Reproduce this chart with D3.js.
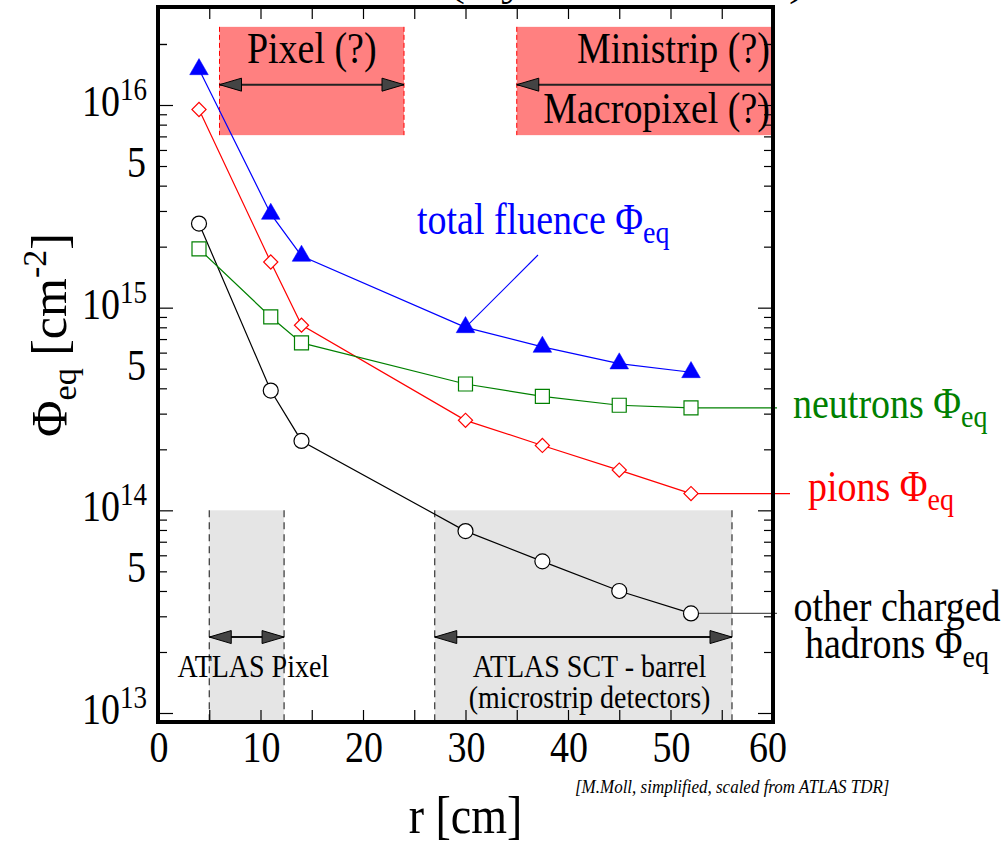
<!DOCTYPE html>
<html>
<head>
<meta charset="utf-8">
<script src="https://cdn.jsdelivr.net/npm/d3@7"></script>
<style>
  body { margin: 0; background: #fff; }
  svg { display: block; font-family: "Liberation Serif", "Times New Roman", serif; }
</style>
</head>
<body>
<div id="chart"></div>
<script>
'use strict';

// ------------------------------------
// DATA
// ------------------------------------
const radius = [4, 11, 14, 30, 37.5, 45, 52];               // r [cm]
const totalFluence = [1.5e16, 2.9e15, 1.8e15, 8.0e14, 6.4e14, 5.3e14, 4.8e14];
const neutrons     = [1.95e15, 9.0e14, 6.7e14, 4.2e14, 3.65e14, 3.3e14, 3.2e14];
const pions        = [9.5e15, 1.68e15, 8.2e14, 2.78e14, 2.09e14, 1.58e14, 1.21e14];
const otherHadrons = [2.6e15, 3.9e14, 2.2e14, 7.9e13, 5.6e13, 4.0e13, 3.1e13];

const xLabels = [0, 10, 20, 30, 40, 50, 60];
const xTickVals = [0, 5, 10, 15, 20, 25, 30, 35, 40, 45, 50, 55, 60];
const yDecades = [1e13, 1e14, 1e15, 1e16];
const yDecadeExp = ["13", "14", "15", "16"];
const yFives = [5e13, 5e14, 5e15];
const yMinorMult = [2, 3, 4, 5, 6, 7, 8, 9];

// detector regions
const upgradeBoxes = [
  { lines: ["Pixel (?)"], r0: 6, r1: 24, heads: ["left", "right"] },
  { lines: ["Ministrip (?)", "Macropixel (?)"], r0: 35, r1: 60, heads: ["left"] }
];
const upgradeTop = 2.43e16, upgradeBottom = 7.1e15, upgradeArrow = 1.26e16;

const atlasBoxes = [
  { lines: ["ATLAS Pixel"], r0: 5, r1: 12.3, labelR: 9.3 },
  { lines: ["ATLAS SCT - barrel", "(microstrip detectors)"], r0: 27, r1: 56, labelR: 42.1 }
];
const atlasTop = 1e14, atlasArrow = 2.37e13;

// ------------------------------------
// SETUP
// ------------------------------------
const width = 1007;
const height = 844;
const frame = { left: 158, right: 773, top: 7, bottom: 722 };
const stretch = 1.15; // the original's lettering is a bit taller than wide

const x = d3.scaleLinear().domain([0, 60]).range([frame.left, frame.right]);
const y = d3.scaleLog().domain([1e13, 1e16]).range([713, 105]);

const svg = d3.select("#chart")
  .append("svg")
  .attr("width", width)
  .attr("height", height);

svg.append("rect").attr("width", width).attr("height", height).attr("fill", "#fff");

// text helper: baseline at (px, py), glyphs stretched vertically
function label(g, px, py, size, anchor) {
  return g.append("text")
    .attr("transform", `translate(${px},${py}) scale(1,${stretch})`)
    .attr("font-size", size)
    .attr("text-anchor", anchor || "start");
}

// cut-off title at the very top
svg.append("text")
  .attr("x", 449)
  .attr("y", -4)
  .attr("font-size", 38)
  .attr("textLength", 356)
  .attr("lengthAdjust", "spacingAndGlyphs")
  .text("(5 years of SLHC)");

// ------------------------------------
// REGIONS
// ------------------------------------
function arrowHead(tipX, yy, dir) {
  const len = 22, half = 6.5;
  return `M${tipX},${yy}L${tipX - dir * len},${yy - half}L${tipX - dir * len},${yy + half}Z`;
}

const gRegions = svg.append("g");

// pink upgrade boxes
upgradeBoxes.forEach(b => {
  const x0 = x(b.r0), x1 = x(b.r1);
  const y0 = y(upgradeTop), y1 = y(upgradeBottom);
  gRegions.append("rect")
    .attr("x", x0).attr("y", y0)
    .attr("width", x1 - x0).attr("height", y1 - y0)
    .attr("fill", "#ff8080");
  [x0, x1].filter(v => v < frame.right - 2).forEach(xx => {
    gRegions.append("line")
      .attr("x1", xx).attr("x2", xx).attr("y1", y0).attr("y2", y1)
      .attr("stroke", "#ff0000").attr("stroke-width", 1)
      .attr("stroke-dasharray", "5,3");
  });
  const ay = y(upgradeArrow);
  gRegions.append("line")
    .attr("x1", x0).attr("x2", x1).attr("y1", ay).attr("y2", ay)
    .attr("stroke", "#222").attr("stroke-width", 2);
  b.heads.forEach(h => {
    gRegions.append("path")
      .attr("d", h === "left" ? arrowHead(x0, ay, -1) : arrowHead(x1, ay, 1))
      .attr("fill", "#444").attr("stroke", "#000").attr("stroke-width", 1);
  });
  b.lines.forEach((t, i) => {
    const single = b.lines.length === 1;
    label(gRegions, single ? (x0 + x1) / 2 : x1 - 3, i === 0 ? y0 + 36 : y0 + 96, 38,
      single ? "middle" : "end")
      .text(t);
  });
});

// grey ATLAS boxes
atlasBoxes.forEach(b => {
  const x0 = x(b.r0), x1 = x(b.r1);
  const y0 = y(atlasTop), y1 = frame.bottom;
  gRegions.append("rect")
    .attr("x", x0).attr("y", y0)
    .attr("width", x1 - x0).attr("height", y1 - y0)
    .attr("fill", "#e5e5e5");
  [x0, x1].forEach(xx => {
    gRegions.append("line")
      .attr("x1", xx).attr("x2", xx).attr("y1", y0).attr("y2", y1)
      .attr("stroke", "#222").attr("stroke-width", 1.1)
      .attr("stroke-dasharray", "7,5");
  });
  const ay = y(atlasArrow);
  gRegions.append("line")
    .attr("x1", x0).attr("x2", x1).attr("y1", ay).attr("y2", ay)
    .attr("stroke", "#111").attr("stroke-width", 2);
  gRegions.append("path").attr("d", arrowHead(x0, ay, -1))
    .attr("fill", "#444").attr("stroke", "#000").attr("stroke-width", 1);
  gRegions.append("path").attr("d", arrowHead(x1, ay, 1))
    .attr("fill", "#444").attr("stroke", "#000").attr("stroke-width", 1);
  b.lines.forEach((t, i) => {
    label(gRegions, x(b.labelR), 677 + i * 31, 28, "middle").text(t);
  });
});

// ------------------------------------
// TICKS (inward, all four sides)
// ------------------------------------
const yMinor = yDecades.flatMap(d => yMinorMult.map(m => d * m))
  .concat(yMinorMult.map(m => 1e16 * m))
  .filter(v => y(v) > frame.top + 3 && y(v) < frame.bottom - 3);
const yMajor = yDecades.filter(v => y(v) > frame.top && y(v) < frame.bottom);

function tidy(g) {
  g.select(".domain").remove();
  g.selectAll("line").attr("stroke", "#000").attr("stroke-width", 1.2);
}

svg.append("g").attr("transform", `translate(0,${frame.bottom})`)
  .call(d3.axisTop(x).tickValues(xTickVals).tickSize(12).tickFormat(""))
  .call(tidy);
svg.append("g").attr("transform", `translate(0,${frame.top})`)
  .call(d3.axisBottom(x).tickValues(xTickVals).tickSize(12).tickFormat(""))
  .call(tidy);
[[d3.axisRight, frame.left], [d3.axisLeft, frame.right]].forEach(([ax, pos]) => {
  svg.append("g").attr("transform", `translate(${pos},0)`)
    .call(ax(y).tickValues(yMinor).tickSize(9).tickFormat(""))
    .call(tidy);
  svg.append("g").attr("transform", `translate(${pos},0)`)
    .call(ax(y).tickValues(yMajor).tickSize(15).tickFormat(""))
    .call(tidy);
});

// tick labels
const gTickLabels = svg.append("g");
xLabels.forEach(v => {
  label(gTickLabels, v === 60 ? x(v) - 5 : x(v) + 1, 762, 38, "middle").text(v);
});
yDecades.forEach((v, i) => {
  const t = label(gTickLabels, 147, y(v) + 11, 38, "end");
  t.append("tspan").text("10");
  t.append("tspan").attr("dy", -14).attr("font-size", 27).text(yDecadeExp[i]);
});
yFives.forEach(v => {
  label(gTickLabels, 146, y(v) + 11, 38, "end").text("5");
});

// axis titles
const yTitle = svg.append("text")
  .attr("transform", "translate(66,335) rotate(-90)")
  .attr("text-anchor", "middle")
  .attr("font-size", 50);
yTitle.append("tspan").text("\u03A6");
yTitle.append("tspan").attr("dy", 10).attr("font-size", 34).text("eq");
yTitle.append("tspan").attr("dy", -10).text(" [cm");
yTitle.append("tspan").attr("dy", -20).attr("font-size", 34).text("-2");
yTitle.append("tspan").attr("dy", 20).text("]");

label(svg, x(30), 833, 46, "middle").text("r [cm]");

label(svg, 575, 793, 17)
  .attr("font-style", "italic")
  .text("[M.Moll, simplified, scaled from ATLAS TDR]");

// ------------------------------------
// SERIES
// ------------------------------------
const series = [
  { values: otherHadrons, color: "#000", leader: "#555", leaderEnd: frame.right + 4, marker: "circle" },
  { values: pions, color: "#ff0000", leader: "#ff0000", leaderEnd: frame.right + 17, marker: "diamond" },
  { values: neutrons, color: "#008000", leader: "#008000", leaderEnd: frame.right + 4, marker: "square" },
  { values: totalFluence, color: "#0000ff", marker: "triangle" }
];

const line = d3.line()
  .x((d, i) => x(radius[i]))
  .y(d => y(d));

const gLines = svg.append("g");
series.forEach(s => {
  gLines.append("path")
    .attr("d", line(s.values))
    .attr("fill", "none")
    .attr("stroke", s.color)
    .attr("stroke-width", 1.2);
  if (s.leader) {
    const last = s.values[s.values.length - 1];
    gLines.append("line")
      .attr("x1", x(radius[radius.length - 1])).attr("x2", s.leaderEnd)
      .attr("y1", y(last)).attr("y2", y(last))
      .attr("stroke", s.leader).attr("stroke-width", 1.2);
  }
});

const symbols = {
  circle: d3.symbol(d3.symbolCircle, 177)(),
  square: d3.symbol(d3.symbolSquare, 196)(),
  diamond: d3.symbol(d3.symbolSquare, 100)(),
  triangle: d3.symbol(d3.symbolTriangle, 150)()
};

// frame
svg.append("rect")
  .attr("x", frame.left).attr("y", frame.top)
  .attr("width", frame.right - frame.left)
  .attr("height", frame.bottom - frame.top)
  .attr("fill", "none")
  .attr("stroke", "#000")
  .attr("stroke-width", 4);

const gPoints = svg.append("g");
series.forEach(s => {
  gPoints.selectAll(null)
    .data(s.values)
    .join("path")
    .attr("d", symbols[s.marker])
    .attr("transform", (d, i) =>
      `translate(${x(radius[i])},${y(d)})` + (s.marker === "diamond" ? " rotate(45)" : ""))
    .attr("fill", s.marker === "triangle" ? s.color : "#fff")
    .attr("stroke", s.color)
    .attr("stroke-width", s.marker === "triangle" ? 0.5 : 1.2);
});

// ------------------------------------
// SERIES LABELS
// ------------------------------------
function phiLabel(g, px, py, text, color, anchor) {
  const t = label(g, px, py, 38, anchor).attr("fill", color);
  t.append("tspan").text(text + "\u03A6");
  t.append("tspan").attr("dy", 8).attr("font-size", 28).text("eq");
  return t;
}

const gLabels = svg.append("g");

// total fluence with leader line to the r = 30 cm point
gLabels.append("line")
  .attr("x1", 538).attr("y1", 255)
  .attr("x2", x(radius[3])).attr("y2", y(totalFluence[3]))
  .attr("stroke", "#0000ff").attr("stroke-width", 1.1);
phiLabel(gLabels, 417, 234, "total fluence ", "#0000ff");

phiLabel(gLabels, 793, 418, "neutrons ", "#008000");
phiLabel(gLabels, 808, 501, "pions ", "#ff0000");

label(gLabels, 897, 621, 38, "middle").text("other charged");
phiLabel(gLabels, 897, 658, "hadrons ", "#000", "middle");
</script>
</body>
</html>
